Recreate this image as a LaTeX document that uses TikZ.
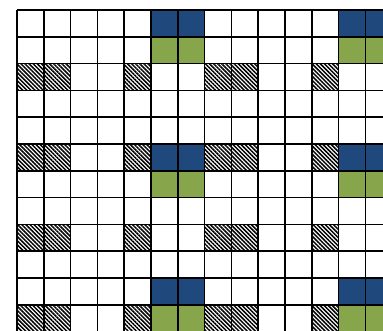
\documentclass[tikz,border=0pt]{standalone}
\usetikzlibrary{patterns.meta}
\definecolor{cellblue}{HTML}{1F497D}
\definecolor{cellgreen}{HTML}{87A64B}
\begin{document}
\begin{tikzpicture}[x=1pt,y=-1pt,
  gridline/.style={line width=1.7pt,black},
  bluecell/.style={fill=cellblue},
  greencell/.style={fill=cellgreen},
  hatchcell/.style={pattern={Lines[angle=-45,distance=2.9pt,line width=1.5pt]},pattern color=black}]
\useasboundingbox (0,0) rectangle (383,330);
\clip (0,0) rectangle (383,330);
\def\cs{26.8}
% blue cells
\foreach \r in {0,5,10} \foreach \c in {5,6,12,13}
  \fill[bluecell] ({17+\c*\cs},{10+\r*\cs}) rectangle ++(\cs,\cs);
% green cells
\foreach \r in {1,6,11} \foreach \c in {5,6,12,13}
  \fill[greencell] ({17+\c*\cs},{10+\r*\cs}) rectangle ++(\cs,\cs);
% hatched cells
\foreach \r in {2,5,8,11} \foreach \c in {0,1,4,7,8,11}
  \fill[hatchcell] ({17+\c*\cs},{10+\r*\cs}) rectangle ++(\cs,\cs);
% grid lines
\foreach \k in {0,...,14}
  \draw[gridline] ({17+\k*\cs},10) -- ({17+\k*\cs},345);
\foreach \k in {0,...,12}
  \draw[gridline] (17,{10+\k*\cs}) -- (395,{10+\k*\cs});
\end{tikzpicture}
\end{document}
